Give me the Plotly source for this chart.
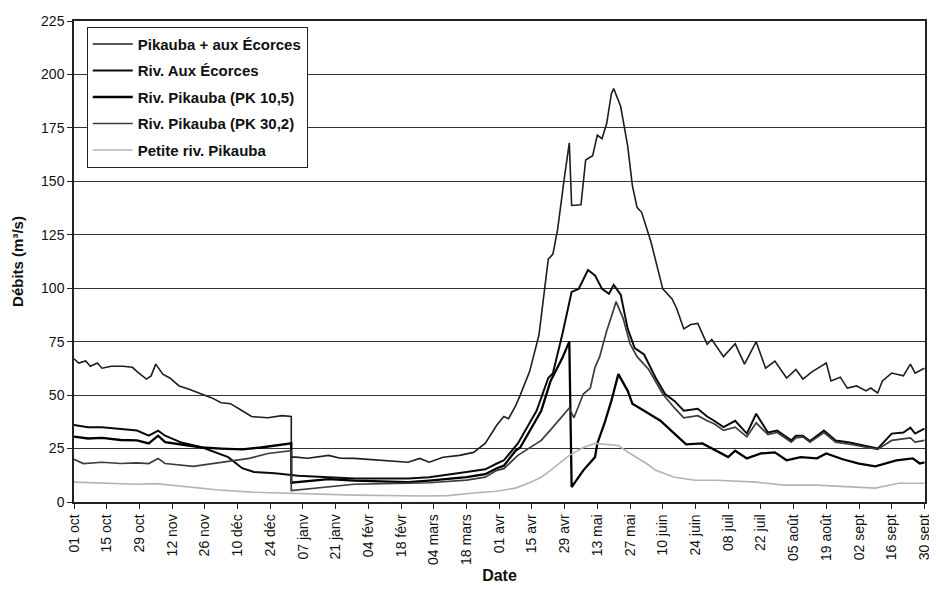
import plotly.graph_objects as go
import pandas as pd

# Day offsets counted from 01 oct (hydrological year) and discharge values (m3/s)
base_date = "2004-10-01"

tick_labels = ["01 oct", "15 oct", "29 oct", "12 nov", "26 nov", "10 déc", "24 déc",
               "07 janv", "21 janv", "04 févr", "18 févr", "04 mars", "18 mars",
               "01 avr", "15 avr", "29 avr", "13 mai", "27 mai", "10 juin", "24 juin",
               "08 juil", "22 juil", "05 août", "19 août", "02 sept", "16 sept", "30 sept"]

sum_days = [0, 2, 5, 7, 10, 12, 16, 21, 25, 27, 31, 33, 35, 38, 41, 45, 49, 55, 59, 63, 67, 72, 76,
            83, 89, 93, 93, 95, 100, 109, 114, 120, 131, 137, 143, 148, 152, 158, 165, 171, 176,
            181, 184, 186, 189, 191, 195, 199, 203, 205, 207, 210, 212, 213, 217, 219, 222, 224,
            226, 228, 230, 231, 234, 237, 239, 241, 243, 247, 252, 256, 258, 261, 264, 267, 271,
            273, 278, 283, 287, 292, 296, 300, 305, 309, 312, 316, 322, 324, 328, 331, 335, 339,
            341, 344, 346, 350, 355, 358, 360, 364]
sum_vals = [67, 65, 66, 63.5, 65, 62.6, 63.5, 63.5, 63, 61, 57.5, 59, 64.5, 59.8, 58, 54.3, 52.9,
            50.5, 48.7, 46.4, 46, 42.7, 40, 39.4, 40.4, 40, 21, 21, 20.5, 21.8, 20.5, 20.4, 19.5,
            19, 18.6, 20.4, 18.6, 20.9, 21.8, 23.2, 27.4, 36, 40, 39, 45, 50, 61, 78, 113.6, 116,
            127.5, 152.6, 168, 138.7, 139, 160, 162, 171.6, 170, 177, 191, 193.4, 185, 166.5, 148,
            137.8, 135.4, 121.5, 99.7, 95, 90.4, 81, 83, 83.5, 73.7, 76, 68, 74, 64.5, 75, 62.6,
            65.9, 58, 62, 57.5, 61, 65, 56.6, 58.4, 53.3, 54.3, 52, 53.3, 51, 56.6, 60.3, 59, 64.5,
            60.3, 62.6]

ecorces_days = [0, 6, 12, 20, 27, 32, 36, 39, 46, 55, 61, 66, 72, 77, 86, 93, 96, 109, 120, 143,
                152, 168, 176, 181, 184, 190, 198, 203, 205, 209, 213, 216, 220, 223, 226, 229,
                231, 234, 237, 240, 244, 249, 253, 257, 261, 267, 271, 274, 278, 283, 288, 292,
                297, 301, 307, 309, 312, 315, 321, 326, 332, 338, 344, 350, 355, 358, 360, 364]
ecorces_vals = [36, 35, 35, 34.3, 33.4, 31, 33.4, 31, 27.8, 25.5, 23.2, 21, 15.8, 14, 13.4, 12.5,
                12.3, 11.6, 11, 11, 11.6, 14, 15.3, 18, 19.5, 27.4, 42.7, 58, 60.3, 78.4, 98.3,
                99.7, 108.5, 106, 99.7, 97.4, 101.6, 97, 81, 72, 69, 58, 50.5, 47.3, 42.7, 43.6,
                40, 38, 35, 38, 32, 41.3, 32.5, 33.4, 28.8, 31, 31, 28.5, 33.4, 28.8, 27.8, 26.4,
                25, 32, 32.5, 34.8, 32, 34.3]

pk105_days = [0, 6, 12, 20, 27, 32, 36, 39, 46, 55, 63, 72, 80, 89, 93, 93, 96, 109, 120, 143,
              152, 168, 176, 181, 184, 189, 191, 198, 200, 204, 209, 212, 213, 218, 223, 224, 227,
              230, 233, 237, 239, 244, 251, 257, 262, 269, 275, 280, 283, 288, 294, 300, 305, 311,
              318, 322, 329, 336, 343, 352, 359, 362, 364]
pk105_vals = [30.6, 29.7, 30, 29, 28.8, 27.4, 31, 28, 26.9, 25.5, 25, 24.6, 25.5, 26.9, 27.4, 9,
              9.3, 10.7, 10, 9.3, 10, 11.6, 13, 15.8, 17, 24, 25.5, 39.4, 42.7, 56.6, 67.3, 75, 7,
              14.8, 21, 27.4, 36.6, 47.3, 59.8, 52, 46, 42.7, 38, 32, 27, 27.4, 24, 21, 24, 20.4,
              22.7, 23.2, 19.5, 21, 20.4, 22.7, 20, 18, 16.7, 19.5, 20.4, 18, 18.5]

pk302_days = [0, 4, 12, 20, 27, 32, 36, 39, 51, 59, 68, 75, 83, 92, 93, 93, 96, 109, 120, 143, 152,
              168, 176, 181, 184, 190, 200, 205, 211, 212, 214, 218, 221, 223, 225, 228, 231, 232,
              235, 238, 241, 246, 252, 257, 261, 267, 271, 274, 278, 283, 288, 292, 297, 301, 307,
              309, 312, 315, 321, 326, 332, 338, 344, 350, 355, 358, 360, 364]
pk302_vals = [20, 18, 18.6, 18, 18.3, 18, 20.4, 18, 16.7, 18, 19.5, 20.4, 22.7, 24, 24, 5.3, 5.6, 7,
              8.3, 8.8, 9, 10.2, 11.6, 14.8, 15.6, 21.8, 28.8, 35, 42.7, 44, 39.4, 50.5, 53.3, 63,
              68, 80, 90, 93.7, 86, 74, 68, 62, 50.5, 44, 39.4, 40.4, 38, 36.6, 33.5, 35, 30.5, 37,
              31.5, 32.5, 28, 30, 30.5, 28, 32.5, 28, 27, 25.8, 24.6, 28.8, 29.5, 30, 28, 28.8]

petite_days = [0, 12, 27, 35, 48, 62, 76, 90, 101, 120, 150, 160, 171, 176, 181, 189, 195, 200, 204,
               212, 218, 223, 233, 238, 245, 249, 257, 266, 275, 292, 304, 318, 332, 343, 353, 364]
petite_vals = [9.3, 8.8, 8.3, 8.6, 7, 5.6, 4.6, 4.2, 3.7, 3.2, 2.8, 3, 4.2, 4.6, 5, 6.5, 9, 11.6,
               14.8, 21.8, 25.5, 27.4, 26.4, 22.7, 18, 14.8, 11.6, 10.2, 10.2, 9.3, 7.9, 7.9, 7,
               6.5, 8.8, 8.8]

series_names = ["Pikauba + aux Écorces", "Riv. Aux Écorces", "Riv. Pikauba (PK 10,5)",
                "Riv. Pikauba (PK 30,2)", "Petite riv. Pikauba"]

base = pd.Timestamp(base_date)


def to_dates(days):
    return [base + pd.Timedelta(days=d) for d in days]


styles = [("#1e1e1e", 1.6), ("#0a0a0a", 2.0), ("#000000", 2.3), ("#3c3c3c", 1.7), ("#b4b4b4", 1.6)]
data = [(sum_days, sum_vals), (ecorces_days, ecorces_vals), (pk105_days, pk105_vals),
        (pk302_days, pk302_vals), (petite_days, petite_vals)]

fig = go.Figure()
for i, (name, (d, v), (col, w)) in enumerate(zip(series_names, data, styles)):
    fig.add_trace(go.Scatter(x=to_dates(d), y=v, mode="lines", name=name,
                             legendgroup=f"g{i}",
                             line=dict(color=col, width=w)))

tick_vals = [base + pd.Timedelta(days=14 * k) for k in range(len(tick_labels))]

font_family = "Liberation Sans, Arial, sans-serif"

# The page body adds an 8 px offset; the figure is sized so the plot area lands
# where the reference puts it (x 74..932, y 17..502 in the window).
fig.update_layout(
    width=929, height=582,
    margin=dict(l=66, r=5, t=9, b=88),
    paper_bgcolor="white", plot_bgcolor="white",
    font=dict(family=font_family, size=14, color="#111"),
    showlegend=True,
    legend=dict(x=0.015, y=0.988, xanchor="left", yanchor="top",
                bgcolor="white", bordercolor="#222", borderwidth=1,
                font=dict(family=font_family, size=15, color="#111", weight="bold"),
                tracegroupgap=4, traceorder="grouped", itemwidth=40),
    xaxis=dict(type="date",
               range=[base, base + pd.Timedelta(days=364, hours=6)],
               tickvals=tick_vals, ticktext=tick_labels, tickangle=-90,
               ticks="outside", ticklen=5, tickcolor="#222",
               showline=True, linecolor="#222", linewidth=1.5, mirror=True,
               showgrid=False, zeroline=False,
               tickfont=dict(size=14),
               title=dict(text="<b>Date</b>", font=dict(size=16), standoff=6)),
    yaxis=dict(range=[0, 225], tick0=0, dtick=25,
               ticks="outside", ticklen=5, tickcolor="#222",
               showline=True, linecolor="#222", linewidth=1.5, mirror=True,
               showgrid=True, gridcolor="#333", gridwidth=1,
               zeroline=False, tickfont=dict(size=14),
               title=dict(text="<b>Débits (m³/s)</b>", font=dict(size=15), standoff=14)),
)

fig.write_html("out.html")
